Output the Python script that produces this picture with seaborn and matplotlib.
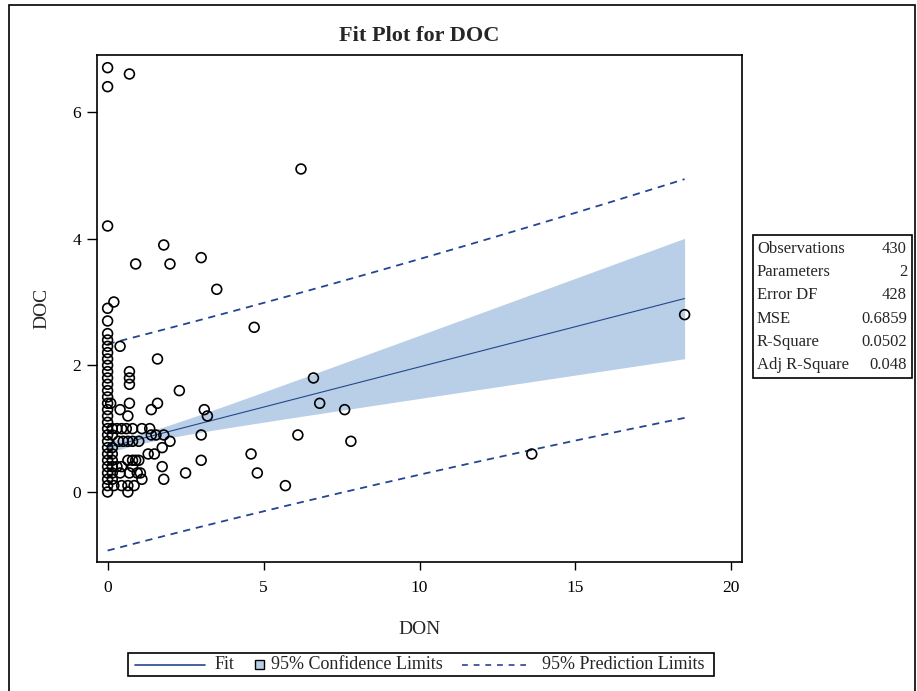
import numpy as np
import pandas as pd
import matplotlib
matplotlib.use("Agg")
import matplotlib.pyplot as plt
from matplotlib.patches import Rectangle
from matplotlib.lines import Line2D
import seaborn as sns

# Observations (DON, DOC)
don = [0.0] * 31 + [
    0.7, 1.8, 0.9, 2.0, 3.0, 3.5, 6.2, 4.7, 0.2, 0.4, 1.6, 0.7, 0.7, 0.7,
    2.3, 1.6, 1.4, 0.1, 0.4, 0.7, 0.65, 3.1, 3.2, 6.6, 6.8, 7.6, 3.0, 6.1,
    7.8, 3.0, 4.6, 4.8, 5.7, 13.6, 18.5, 2.5,
    0.3, 0.45, 0.6, 0.8, 1.1, 1.35,
    1.4, 1.55, 1.8,
    0.35, 0.5, 0.65, 0.8, 1.0, 2.0,
    1.75,
    1.3, 1.5,
    0.65, 0.8, 0.9, 1.0,
    0.3, 0.45, 0.8, 1.75,
    0.4, 0.7, 0.95, 1.05,
    1.1, 1.8,
    0.2, 0.45, 0.65, 0.85,
    0.65,
    0.15, 0.15, 0.15, 0.15, 0.15, 0.15, 0.15, 0.15,
]
doc = [
    0.0, 0.1, 0.2, 0.3, 0.4, 0.5, 0.6, 0.7, 0.8, 0.9, 1.0, 1.1, 1.2, 1.3,
    1.4, 1.5, 1.6, 1.7, 1.8, 1.9, 2.0, 2.1, 2.2, 2.3, 2.4, 2.5, 2.7, 2.9,
    4.2, 6.4, 6.7,
    6.6, 3.9, 3.6, 3.6, 3.7, 3.2, 5.1, 2.6, 3.0, 2.3, 2.1, 1.9, 1.8, 1.7,
    1.6, 1.4, 1.3, 1.4, 1.3, 1.4, 1.2, 1.3, 1.2, 1.8, 1.4, 1.3, 0.9, 0.9,
    0.8, 0.5, 0.6, 0.3, 0.1, 0.6, 2.8, 0.3,
    1.0, 1.0, 1.0, 1.0, 1.0, 1.0,
    0.9, 0.9, 0.9,
    0.8, 0.8, 0.8, 0.8, 0.8, 0.8,
    0.7,
    0.6, 0.6,
    0.5, 0.5, 0.5, 0.5,
    0.4, 0.4, 0.4, 0.4,
    0.3, 0.3, 0.3, 0.3,
    0.2, 0.2,
    0.1, 0.1, 0.1, 0.1,
    0.0,
    1.0, 0.9, 0.7, 0.6, 0.5, 0.4, 0.3, 0.2,
]

# Regression summary
n_obs = 430
mse = 0.6859
intercept = 0.705
slope = 0.127
don_mean = 0.8
don_sxx = 925.0
t_crit = 1.9655
don_min, don_max = 0.0, 18.5

stats_rows = [
    ("Observations", "430"),
    ("Parameters", "2"),
    ("Error DF", "428"),
    ("MSE", "0.6859"),
    ("R-Square", "0.0502"),
    ("Adj R-Square", "0.048"),
]

navy = "#24468F"
band = "#B8CFE7"

sns.set_theme(style="white")
plt.rcParams["font.family"] = ["Liberation Serif", "DejaVu Serif"]

fig = plt.figure(figsize=(9.17, 6.91), dpi=100)
ax = fig.add_axes([97 / 917, 1 - 562 / 691, 645 / 917, 507 / 691])

grid = np.linspace(don_min, don_max, 200)
fit = intercept + slope * grid
s = np.sqrt(mse)
ci_half = t_crit * s * np.sqrt(1 / n_obs + (grid - don_mean) ** 2 / don_sxx)
pi_half = t_crit * s * np.sqrt(1 + 1 / n_obs + (grid - don_mean) ** 2 / don_sxx)

ax.fill_between(grid, fit - ci_half, fit + ci_half, color=band, lw=0, zorder=1)
line_df = pd.DataFrame({"DON": grid, "fit": fit})
sns.lineplot(data=line_df, x="DON", y="fit", ax=ax, color=navy, lw=0.8, zorder=2)
ax.plot(grid, fit + pi_half, color=navy, lw=1.3, ls=(0, (4, 3.2)), zorder=2)
ax.plot(grid, fit - pi_half, color=navy, lw=1.3, ls=(0, (4, 3.2)), zorder=2)

pts = pd.DataFrame({"DON": don, "DOC": doc})
sns.scatterplot(data=pts, x="DON", y="DOC", ax=ax, marker="o", s=50,
                facecolor="none", edgecolor="black", linewidth=1.2, zorder=3)

ax.set_xlim(-0.34, 20.34)
ax.set_ylim(-1.106, 6.9)
ax.set_xticks([0, 5, 10, 15, 20])
ax.set_yticks([0, 2, 4, 6])
ax.tick_params(axis="both", direction="out", width=1, colors="black",
               labelsize=12.5, bottom=True, left=True)
ax.tick_params(axis="x", length=6, pad=7)
ax.tick_params(axis="y", length=7.5, pad=4)
for sp in ax.spines.values():
    sp.set_color("black")
    sp.set_linewidth(1.2)
ax.set_xlabel("DON", fontsize=14, labelpad=18)
ax.set_ylabel("DOC", fontsize=14, labelpad=16)
ax.set_title("Fit Plot for DOC", fontsize=16, fontweight="bold", pad=10)

# Summary statistics box
W, H = 917, 691
fig.add_artist(Rectangle((753 / W, 1 - 378 / H), 159 / W, 143 / H,
                         transform=fig.transFigure, fill=False, ec="black", lw=1.2))
for i, (lab, val) in enumerate(stats_rows):
    yy = 1 - (249 + i * 23.2) / H
    fig.text(757 / W, yy, lab, ha="left", va="center", fontsize=12)
    fig.text(907 / W, yy, val, ha="right", va="center", fontsize=12)

# Legend strip
fig.add_artist(Rectangle((128 / W, 1 - 676 / H), 586 / W, 23 / H,
                         transform=fig.transFigure, fill=False, ec="black", lw=1.2))
ly = 1 - 664.5 / H
fig.add_artist(Line2D([135 / W, 205 / W], [ly, ly], transform=fig.transFigure,
                      color=navy, lw=1.2))
fig.text(215 / W, ly, "Fit", ha="left", va="center", fontsize=13)
fig.add_artist(Rectangle((255 / W, ly - 4.5 / H), 9 / W, 9 / H,
                         transform=fig.transFigure, fc=band, ec="black", lw=1))
fig.text(271 / W, ly, "95% Confidence Limits", ha="left", va="center", fontsize=13)
fig.add_artist(Line2D([462 / W, 526 / W], [ly, ly], transform=fig.transFigure,
                      color=navy, lw=1.2, ls=(0, (3.5, 3.5))))
fig.text(542 / W, ly, "95% Prediction Limits", ha="left", va="center", fontsize=13)

# Outer frame
fig.add_artist(Rectangle((9 / W, -0.01), 906 / W, 1.01 - 5 / H,
                         transform=fig.transFigure, fill=False, ec="black", lw=1.2))

fig.savefig("out.png", dpi=100)
